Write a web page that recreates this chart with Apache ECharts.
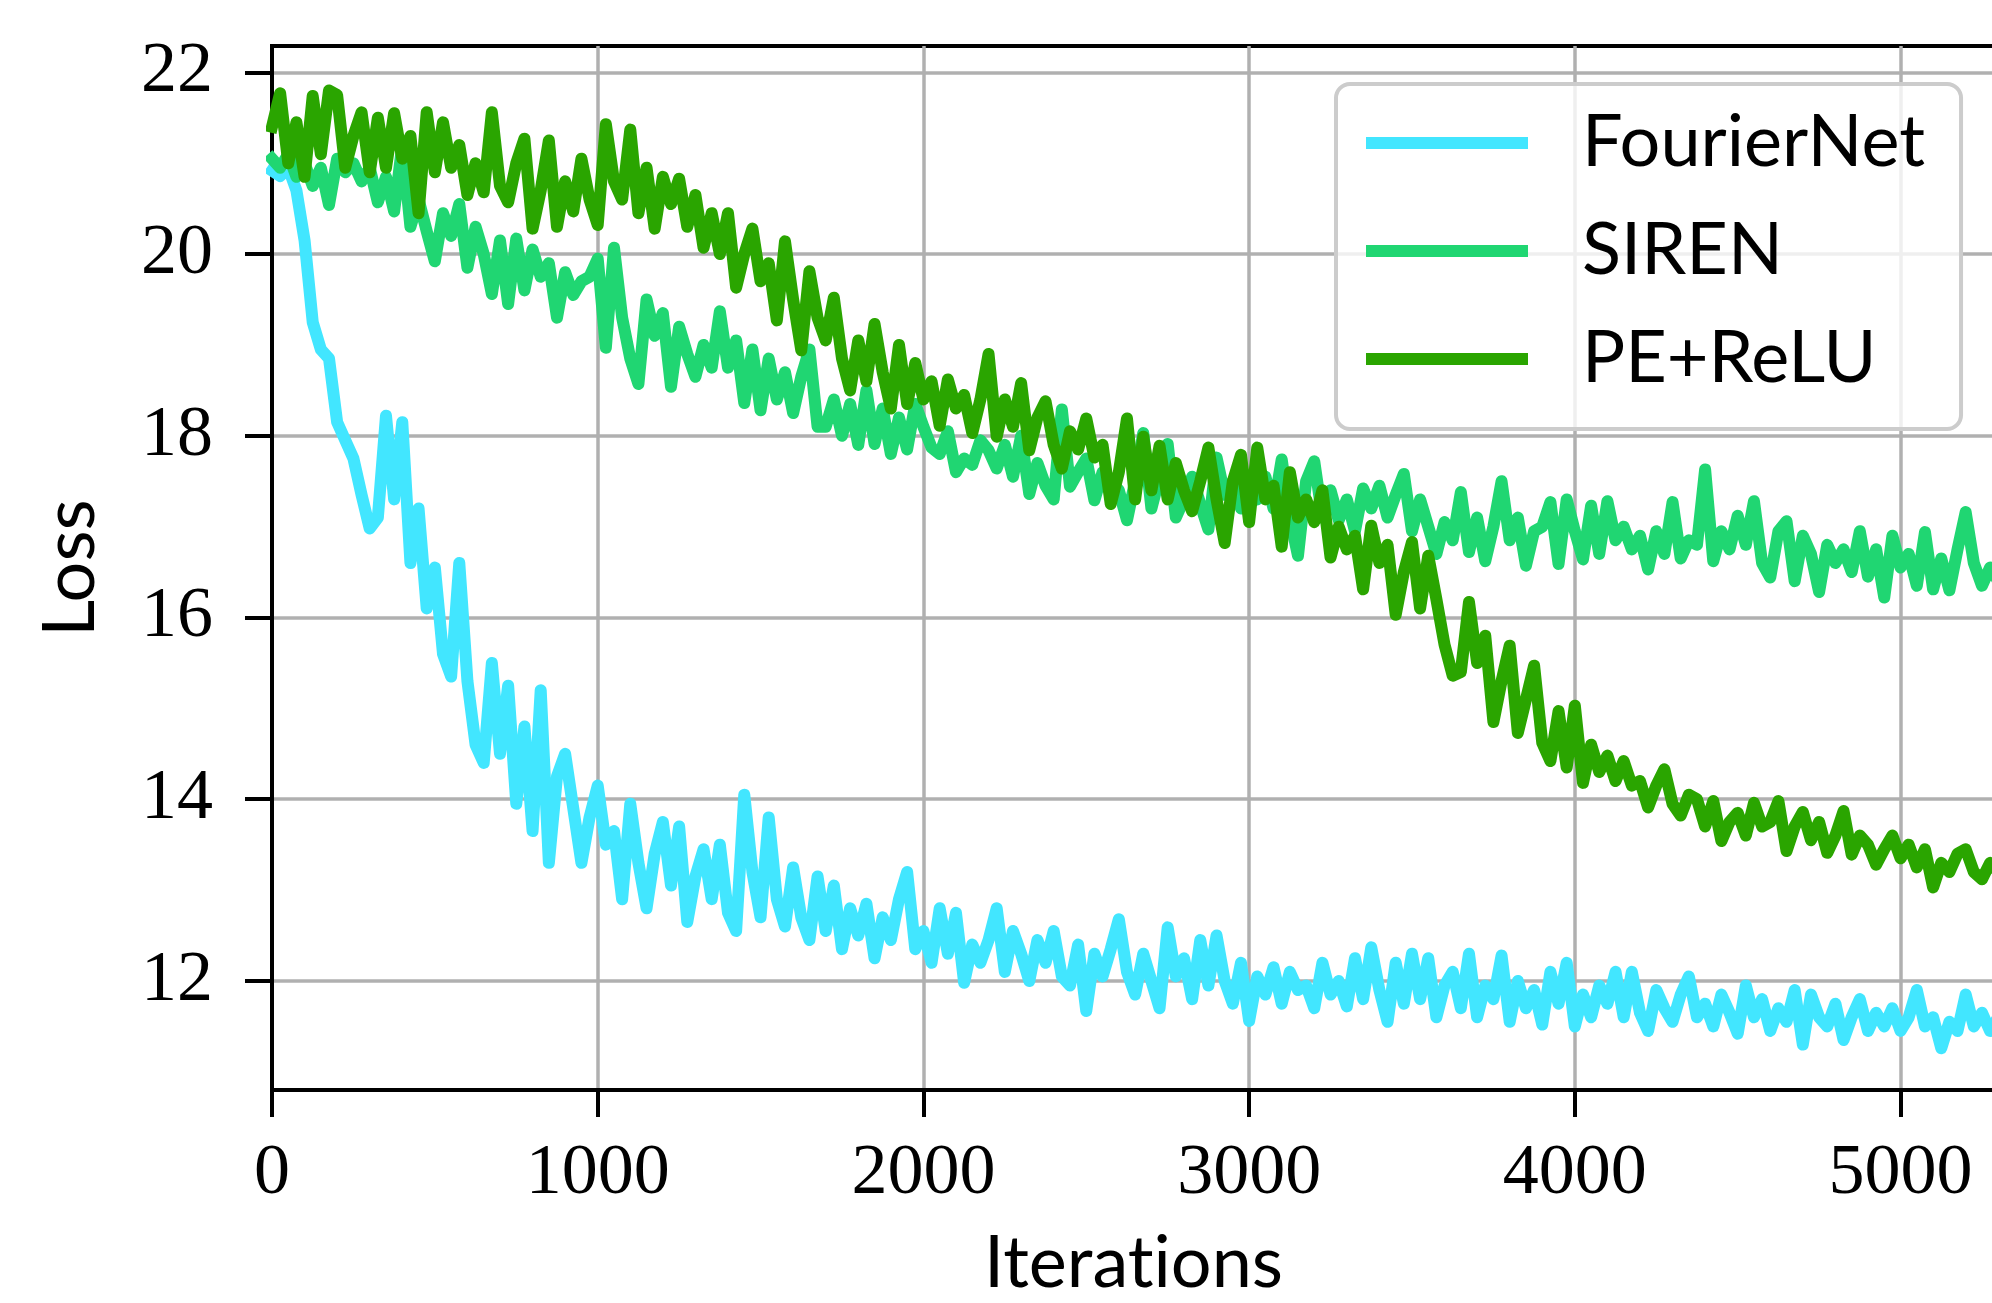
<!DOCTYPE html>
<html>
<head>
<meta charset="utf-8">
<script src="https://cdn.jsdelivr.net/npm/echarts@6/dist/echarts.min.js"></script>
<style>
  html, body { margin: 0; padding: 0; background: #fff; }
  #main { width: 1992px; height: 1303px; }
</style>
</head>
<body>
<div id="main"></div>
<script>
var step = 25;

var fourierNet = [
  20.92, 20.86, 20.95, 20.70, 20.15, 19.25, 18.95, 18.85,
  18.15, 17.95, 17.75, 17.35, 16.98, 17.10, 18.22, 17.30,
  18.15, 16.60, 17.20, 16.10, 16.55, 15.60, 15.35, 16.60,
  15.30, 14.60, 14.40, 15.50, 14.50, 15.25, 13.95, 14.80,
  13.65, 15.20, 13.30, 14.25, 14.50, 13.90, 13.30, 13.80,
  14.15, 13.50, 13.65, 12.90, 13.95, 13.30, 12.80, 13.40,
  13.75, 13.05, 13.70, 12.65, 13.15, 13.45, 12.90, 13.50,
  12.75, 12.55, 14.05, 13.20, 12.70, 13.80, 12.90, 12.60,
  13.25, 12.70, 12.45, 13.15, 12.55, 13.05, 12.35, 12.80,
  12.50, 12.85, 12.25, 12.70, 12.45, 12.90, 13.20, 12.35,
  12.55, 12.20, 12.80, 12.30, 12.75, 11.98, 12.40, 12.20,
  12.45, 12.80, 12.10, 12.55, 12.30, 12.00, 12.45, 12.20,
  12.55, 12.05, 11.95, 12.40, 11.67, 12.30, 12.05, 12.35,
  12.68, 12.10, 11.85, 12.30, 12.00, 11.70, 12.59, 12.05,
  12.25, 11.80, 12.45, 11.95, 12.50, 12.00, 11.75, 12.20,
  11.56, 12.05, 11.85, 12.15, 11.75, 12.10, 11.90, 11.95,
  11.70, 12.20, 11.85, 12.00, 11.72, 12.25, 11.80, 12.37,
  11.90, 11.55, 12.20, 11.75, 12.30, 11.80, 12.25, 11.60,
  11.95, 12.10, 11.70, 12.30, 11.60, 11.95, 11.80, 12.28,
  11.55, 12.00, 11.70, 11.90, 11.52, 12.10, 11.75, 12.20,
  11.50, 11.85, 11.60, 11.95, 11.75, 12.10, 11.60, 12.10,
  11.65, 11.45, 11.90, 11.70, 11.55, 11.85, 12.05, 11.60,
  11.75, 11.50, 11.85, 11.65, 11.42, 11.95, 11.60, 11.80,
  11.45, 11.70, 11.55, 11.90, 11.30, 11.85, 11.60, 11.50,
  11.75, 11.35, 11.60, 11.80, 11.45, 11.65, 11.50, 11.70,
  11.45, 11.60, 11.90, 11.50, 11.60, 11.26, 11.55, 11.45,
  11.85, 11.50, 11.65, 11.45, 11.60
];

var siren = [
  21.05, 20.95, 21.10, 20.85, 21.00, 20.75, 20.95, 20.54,
  21.05, 20.90, 21.00, 20.80, 20.95, 20.57, 20.85, 20.47,
  21.20, 20.30, 20.60, 20.25, 19.92, 20.45, 20.20, 20.55,
  19.85, 20.30, 20.00, 19.56, 20.15, 19.45, 20.17, 19.60,
  20.05, 19.75, 19.90, 19.30, 19.80, 19.55, 19.70, 19.75,
  19.95, 18.97, 20.07, 19.30, 18.85, 18.57, 19.50, 19.10,
  19.35, 18.54, 19.20, 18.90, 18.65, 19.00, 18.75, 19.37,
  18.75, 19.05, 18.36, 18.95, 18.28, 18.85, 18.40, 18.70,
  18.25, 18.65, 18.95, 18.10, 18.10, 18.40, 18.00, 18.35,
  17.90, 18.50, 17.91, 18.30, 17.80, 18.20, 17.85, 18.35,
  18.10, 17.87, 17.80, 18.05, 17.60, 17.75, 17.68, 17.95,
  17.84, 17.64, 17.90, 17.55, 18.00, 17.36, 17.70, 17.45,
  17.30, 18.29, 17.44, 17.60, 17.75, 17.29, 17.60, 17.50,
  17.40, 17.07, 17.50, 18.03, 17.20, 17.55, 17.91, 17.10,
  17.30, 17.55, 17.25, 16.97, 17.76, 17.35, 17.50, 17.20,
  17.40, 17.30, 17.55, 17.20, 17.74, 17.10, 16.68, 17.50,
  17.72, 17.10, 17.40, 17.07, 17.30, 16.95, 17.42, 17.20,
  17.45, 17.10, 17.35, 17.58, 16.95, 17.30, 17.00, 16.70,
  17.05, 16.85, 17.38, 16.72, 17.10, 16.62, 17.00, 17.50,
  16.85, 17.10, 16.57, 16.95, 17.00, 17.27, 16.59, 17.30,
  16.95, 16.64, 17.23, 16.70, 17.28, 16.85, 17.00, 16.75,
  16.90, 16.53, 16.95, 16.70, 17.27, 16.65, 16.85, 16.80,
  17.63, 16.62, 16.95, 16.75, 17.12, 16.80, 17.28, 16.60,
  16.44, 16.95, 17.06, 16.40, 16.90, 16.70, 16.28, 16.80,
  16.60, 16.75, 16.50, 16.95, 16.45, 16.75, 16.22, 16.90,
  16.55, 16.70, 16.35, 16.94, 16.31, 16.65, 16.30, 16.75,
  17.16, 16.60, 16.35, 16.55, 16.40
];

var peRelu = [
  21.40, 21.77, 21.00, 21.45, 20.85, 21.74, 21.10, 21.80,
  21.75, 20.95, 21.30, 21.56, 20.90, 21.50, 20.95, 21.55,
  21.05, 21.30, 20.45, 21.56, 20.90, 21.45, 20.95, 21.20,
  20.65, 21.00, 20.68, 21.56, 20.75, 20.57, 21.00, 21.27,
  20.28, 20.70, 21.25, 20.30, 20.80, 20.47, 21.05, 20.60,
  20.32, 21.43, 20.80, 20.60, 21.37, 20.45, 20.95, 20.28,
  20.85, 20.55, 20.83, 20.30, 20.65, 20.07, 20.45, 20.00,
  20.45, 19.63, 20.00, 20.28, 19.70, 19.90, 19.27, 20.14,
  19.50, 18.94, 19.81, 19.30, 19.05, 19.52, 18.85, 18.50,
  19.05, 18.60, 19.23, 18.70, 18.30, 19.00, 18.35, 18.80,
  18.40, 18.60, 18.11, 18.62, 18.30, 18.45, 18.03, 18.40,
  18.90, 17.99, 18.40, 18.10, 18.58, 17.84, 18.20, 18.38,
  17.90, 17.64, 18.05, 17.85, 18.19, 17.76, 17.90, 17.25,
  17.60, 18.19, 17.30, 17.99, 17.40, 17.89, 17.30, 17.70,
  17.40, 17.17, 17.50, 17.87, 17.30, 16.82, 17.50, 17.79,
  17.05, 17.87, 17.30, 17.45, 16.78, 17.60, 17.10, 17.30,
  17.05, 17.40, 16.66, 17.00, 16.75, 16.90, 16.31, 17.01,
  16.60, 16.80, 16.03, 16.50, 16.83, 16.10, 16.68, 16.20,
  15.70, 15.36, 15.40, 16.17, 15.50, 15.80, 14.85, 15.30,
  15.69, 14.73, 15.10, 15.47, 14.62, 14.42, 14.97, 14.35,
  15.03, 14.18, 14.60, 14.30, 14.48, 14.20, 14.42, 14.15,
  14.20, 13.91, 14.15, 14.33, 13.95, 13.82, 14.05, 14.00,
  13.70, 13.98, 13.54, 13.75, 13.85, 13.60, 13.96, 13.70,
  13.75, 13.98, 13.43, 13.70, 13.86, 13.55, 13.75, 13.41,
  13.60, 13.87, 13.39, 13.60, 13.50, 13.28, 13.45, 13.60,
  13.35, 13.50, 13.25, 13.45, 13.03, 13.30, 13.20, 13.40,
  13.45, 13.20, 13.12, 13.30, 13.20
];

var xTicks = [0, 1000, 2000, 3000, 4000, 5000];
var yTicks = [12, 14, 16, 18, 20, 22];

function toPoints(vals) {
    var pts = [];
    for (var i = 0; i < vals.length; i++) {
        pts.push([i * step, vals[i]]);
    }
    return pts;
}

var chart = echarts.init(document.getElementById('main'));

var serifFont = 'Liberation Serif';
var sansFont = 'Lato';

function makeSeries(name, vals, color) {
    return {
        name: name,
        type: 'line',
        data: toPoints(vals),
        symbol: 'none',
        showSymbol: false,
        clip: true,
        itemStyle: { color: color },
        lineStyle: { color: color, width: 12, join: 'round', cap: 'square' }
    };
}

chart.setOption({
    animation: false,
    backgroundColor: '#fff',
    grid: {
        left: 272, right: -3, top: 46, bottom: 213,
        outerBoundsMode: 'none',
        containLabel: false,
        show: true, borderColor: '#000', borderWidth: 4
    },
    legend: {
        orient: 'vertical',
        left: 1336, top: 84,
        icon: 'rect',
        itemWidth: 162, itemHeight: 12, itemGap: 28,
        padding: [19, 36, 30, 30],
        backgroundColor: 'rgba(255,255,255,0.8)',
        borderColor: '#cccccc', borderWidth: 4, borderRadius: 14,
        textStyle: {
            fontFamily: sansFont, fontSize: 72, color: '#000',
            lineHeight: 80, padding: [0, 0, 0, 49]
        },
        data: ['FourierNet', 'SIREN', 'PE+ReLU']
    },
    xAxis: {
        type: 'value',
        min: 0, max: 5290,
        // split between t and i so Lato does not join them into a ligature
        name: '{t|Iterat}{t|ions}',
        nameLocation: 'middle',
        nameGap: 138,
        nameTextStyle: {
            fontFamily: sansFont, fontSize: 72, color: '#000',
            rich: { t: { fontFamily: sansFont, fontSize: 72, color: '#000' } }
        },
        axisLine: { show: true, lineStyle: { color: '#000', width: 4 } },
        axisTick: {
            show: true, inside: false, length: 27, customValues: xTicks,
            lineStyle: { color: '#000', width: 4 }
        },
        axisLabel: {
            customValues: xTicks, margin: 48,
            formatter: function (v) { return String(v); },
            fontFamily: serifFont, fontSize: 72, color: '#000'
        },
        splitLine: { show: true, lineStyle: { color: '#b0b0b0', width: 3.5 } }
    },
    yAxis: {
        type: 'value',
        min: 10.8, max: 22.29,
        name: 'Loss',
        nameLocation: 'middle',
        nameGap: 165,
        nameTextStyle: { fontFamily: sansFont, fontSize: 72, color: '#000' },
        axisLine: { show: true, lineStyle: { color: '#000', width: 4 } },
        axisTick: {
            show: true, inside: false, length: 27, customValues: yTicks,
            lineStyle: { color: '#000', width: 4 }
        },
        axisLabel: {
            customValues: yTicks, margin: 59,
            formatter: function (v) { return String(v); },
            fontFamily: serifFont, fontSize: 72, color: '#000'
        },
        splitLine: { show: true, lineStyle: { color: '#b0b0b0', width: 3.5 } }
    },
    series: [
        makeSeries('FourierNet', fourierNet, '#42e6ff'),
        makeSeries('SIREN', siren, '#20d672'),
        makeSeries('PE+ReLU', peRelu, '#2aa500')
    ]
});
</script>
</body>
</html>
